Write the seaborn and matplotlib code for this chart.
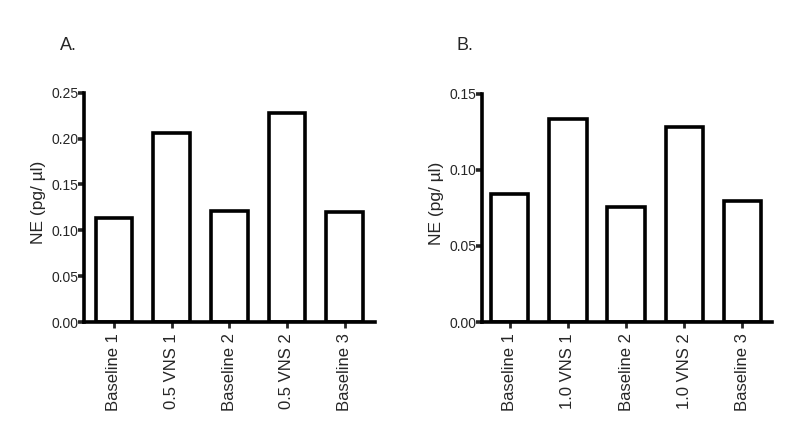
import matplotlib
matplotlib.use("Agg")
import matplotlib.pyplot as plt
import seaborn as sns
import pandas as pd

cats_a = ["Baseline 1", "0.5 VNS 1", "Baseline 2", "0.5 VNS 2", "Baseline 3"]
vals_a = [0.1135, 0.206, 0.1215, 0.2274, 0.1198]
cats_b = ["Baseline 1", "1.0 VNS 1", "Baseline 2", "1.0 VNS 2", "Baseline 3"]
vals_b = [0.084, 0.1333, 0.0757, 0.128, 0.0796]
yticks_a = [0.00, 0.05, 0.10, 0.15, 0.20, 0.25]
yticks_b = [0.00, 0.05, 0.10, 0.15]
panel_labels = ["A.", "B."]
ylabel = "NE (pg/ \u00b5l)"

sns.set_style("white")
plt.rcParams["font.family"] = ["Liberation Sans", "DejaVu Sans"]

fig = plt.figure(figsize=(8, 4.46), dpi=100)
ax_a = fig.add_axes([0.105, 0.278, 0.364, 0.514])
ax_b = fig.add_axes([0.6025, 0.278, 0.363, 0.512])

def draw(ax, cats, vals, yticks, xlim):
    df = pd.DataFrame({"cat": cats, "val": vals})
    sns.barplot(data=df, x="cat", y="val", ax=ax, color="white",
                edgecolor="black", linewidth=2.6, width=0.64, saturation=1)
    ax.set_xlim(*xlim)
    ax.set_ylim(yticks[0], yticks[-1])
    ax.set_yticks(yticks)
    ax.set_yticklabels([f"{t:.2f}" for t in yticks], fontsize=10)
    ax.set_xticks(range(len(cats)))
    ax.set_xticklabels(cats, rotation=90, fontsize=12)
    ax.set_xlabel("")
    ax.set_ylabel(ylabel, fontsize=12.5)
    ax.yaxis.set_label_coords(-0.132, 0.52)
    for s in ["top", "right"]:
        ax.spines[s].set_visible(False)
    for s in ["left", "bottom"]:
        ax.spines[s].set_linewidth(2.6)
        ax.spines[s].set_color("black")
    ax.tick_params(axis="y", direction="out", length=4, width=2.6, pad=0, left=True)
    ax.tick_params(axis="x", direction="out", length=4, width=2, pad=4, bottom=True)

draw(ax_a, cats_a, vals_a, yticks_a, (-0.52, 4.53))
draw(ax_b, cats_b, vals_b, yticks_b, (-0.48, 4.52))

fig.text(60 / 800, 1 - 50 / 446, panel_labels[0], fontsize=13, ha="left", va="baseline")
fig.text(457 / 800, 1 - 50 / 446, panel_labels[1], fontsize=13, ha="left", va="baseline")

fig.savefig("out.png", dpi=100)
